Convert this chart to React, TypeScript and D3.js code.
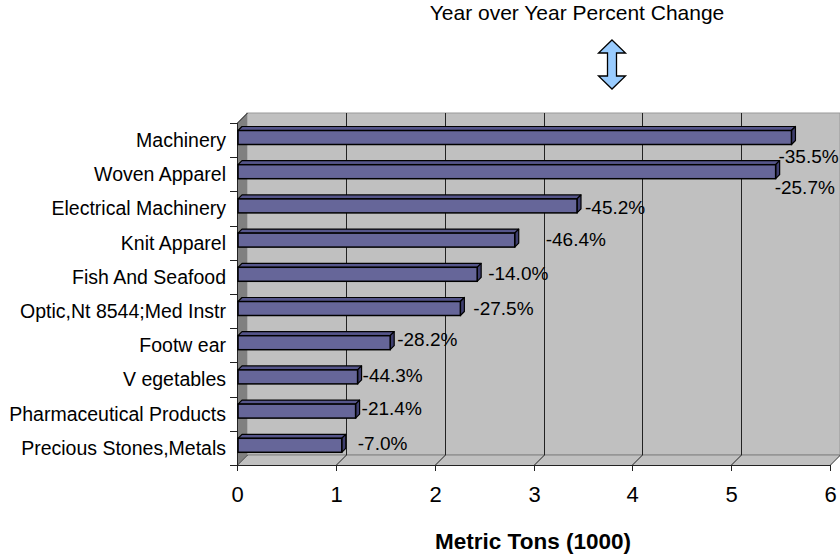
import React, { useRef, useEffect } from 'react';
import * as d3 from 'd3';

const CATEGORIES = [
    "Machinery",
    "Woven Apparel",
    "Electrical Machinery",
    "Knit Apparel",
    "Fish And Seafood",
    "Optic,Nt 8544;Med Instr",
    "Footw ear",
    "V egetables",
    "Pharmaceutical Products",
    "Precious Stones,Metals"
];

const TONS = [5.61, 5.45, 3.44, 2.81, 2.43, 2.26, 1.55, 1.22, 1.20, 1.06];

const PCT_CHANGE = ["-35.5%", "-25.7%", "-45.2%", "-46.4%", "-14.0%", "-27.5%", "-28.2%", "-44.3%", "-21.4%", "-7.0%"];

const X_TICKS = [0, 1, 2, 3, 4, 5, 6];

// Excel placed the % labels by itself, these nudges copy it (px from bar end / bar middle)
const LABEL_DX = [-13, -1, 8, 31, 11, 13, 7, 5, 6, 16];
const LABEL_DY = [19, 16, 1, -1, -1, 0, -3, -2, -3, -2];

const FONT = "'Liberation Sans', Arial, sans-serif";

const App: React.FC = () => {
    const svgRef = useRef<SVGSVGElement>(null);

    useEffect(() => {
        if (!svgRef.current) return;
        const svg = d3.select(svgRef.current);
        svg.selectAll("*").remove();

        const left = 237, right = 830, top = 123, bottom = 465;
        const dx = 10, dy = -10;
        const bd = 4; // bar depth

        const xScale = d3.scaleLinear().domain([0, 6]).range([left, right]);
        const yScale = d3.scaleBand<string>().domain(CATEGORIES).range([top, bottom]);
        const step = yScale.step();

        // back wall
        svg.append("rect")
            .attr("x", left + dx).attr("y", top + dy)
            .attr("width", right - left).attr("height", bottom - top)
            .attr("fill", "#c0c0c0")
            .attr("stroke", "#999").attr("stroke-width", 1);

        // side wall
        svg.append("polygon")
            .attr("points", [[left, top], [left + dx, top + dy], [left + dx, bottom + dy], [left, bottom]].join(" "))
            .attr("fill", "#808080");

        // floor
        svg.append("polygon")
            .attr("points", [[left, bottom], [left + dx, bottom + dy], [right + dx, bottom + dy], [right, bottom]].join(" "))
            .attr("fill", "#c0c0c0");
        svg.append("line")
            .attr("x1", left + dx).attr("x2", right + dx)
            .attr("y1", bottom + dy).attr("y2", bottom + dy)
            .attr("stroke", "#808080");

        // gridlines on the wall + floor diagonals
        X_TICKS.forEach(t => {
            const gx = Math.round(xScale(t)) + 0.5;
            if (t > 0) {
                svg.append("line")
                    .attr("x1", gx + dx).attr("x2", gx + dx)
                    .attr("y1", top + dy).attr("y2", bottom + dy)
                    .attr("stroke", "#222");
            }
            svg.append("line")
                .attr("x1", gx).attr("y1", bottom)
                .attr("x2", gx + dx).attr("y2", bottom + dy)
                .attr("stroke", "#222");
        });

        // x axis
        svg.append("line")
            .attr("x1", left).attr("x2", right)
            .attr("y1", bottom + 0.5).attr("y2", bottom + 0.5)
            .attr("stroke", "#222");
        X_TICKS.forEach(t => {
            const gx = Math.round(xScale(t)) + 0.5;
            svg.append("line")
                .attr("x1", gx).attr("x2", gx)
                .attr("y1", bottom).attr("y2", bottom + 6)
                .attr("stroke", "#222");
            svg.append("text")
                .attr("x", gx).attr("y", 502)
                .attr("text-anchor", "middle")
                .style("font-family", FONT)
                .style("font-size", "22px")
                .text(String(t));
        });

        // y axis
        svg.append("line")
            .attr("x1", left + 0.5).attr("x2", left + 0.5)
            .attr("y1", top).attr("y2", bottom + 6)
            .attr("stroke", "#222");
        svg.append("line")
            .attr("x1", left + 0.5).attr("y1", top)
            .attr("x2", left + dx + 0.5).attr("y2", top + dy)
            .attr("stroke", "#222");
        d3.range(CATEGORIES.length + 1).forEach(i => {
            const ty = Math.round(top + i * step) + 0.5;
            svg.append("line")
                .attr("x1", left - 7).attr("x2", left)
                .attr("y1", ty).attr("y2", ty)
                .attr("stroke", "#222");
        });

        // category labels
        svg.append("g")
            .selectAll("text")
            .data(CATEGORIES)
            .join("text")
            .attr("x", 226)
            .attr("y", d => (yScale(d) ?? 0) + step / 2)
            .attr("dy", "0.35em")
            .attr("text-anchor", "end")
            .style("font-family", FONT)
            .style("font-size", "19.5px")
            .text(d => d);

        // bars
        const bars = svg.append("g");
        CATEGORIES.forEach((cat, i) => {
            const x0 = xScale(0) + 1;
            const x1 = xScale(TONS[i]);
            const yt = (yScale(cat) ?? 0) + 7.5;
            const h = 14;
            bars.append("polygon")
                .attr("points", [[x0, yt], [x0 + bd, yt - bd], [x1 + bd, yt - bd], [x1, yt]].join(" "))
                .attr("fill", "#55558a").attr("stroke", "#000").attr("stroke-width", 1.2)
                .attr("stroke-linejoin", "round");
            bars.append("polygon")
                .attr("points", [[x1, yt], [x1 + bd, yt - bd], [x1 + bd, yt + h - bd], [x1, yt + h]].join(" "))
                .attr("fill", "#3e3e6e").attr("stroke", "#000").attr("stroke-width", 1.2)
                .attr("stroke-linejoin", "round");
            bars.append("rect")
                .attr("x", x0).attr("y", yt)
                .attr("width", x1 - x0).attr("height", h)
                .attr("fill", "#666699").attr("stroke", "#000").attr("stroke-width", 1.5);

            svg.append("text")
                .attr("x", x1 + LABEL_DX[i])
                .attr("y", yt + h / 2 + LABEL_DY[i])
                .attr("dy", "0.35em")
                .style("font-family", FONT)
                .style("font-size", "19px")
                .text(PCT_CHANGE[i]);
        });

        // title + arrow
        svg.append("text")
            .attr("x", 577).attr("y", 20)
            .attr("text-anchor", "middle")
            .style("font-family", FONT)
            .style("font-size", "21px")
            .text("Year over Year Percent Change");

        const ax = 612, aTop = 40, aBot = 89, hw = 13.5, sw = 4.5, hl = 13;
        svg.append("polygon")
            .attr("points", [
                [ax, aTop], [ax + hw, aTop + hl], [ax + sw, aTop + hl], [ax + sw, aBot - hl],
                [ax + hw, aBot - hl], [ax, aBot], [ax - hw, aBot - hl], [ax - sw, aBot - hl],
                [ax - sw, aTop + hl], [ax - hw, aTop + hl]
            ].join(" "))
            .attr("fill", "#99ccff").attr("stroke", "#000").attr("stroke-width", 1.3);

        svg.append("text")
            .attr("x", 533).attr("y", 549)
            .attr("text-anchor", "middle")
            .style("font-family", FONT)
            .style("font-size", "22.5px")
            .style("font-weight", "bold")
            .text("Metric Tons (1000)");
    }, []);

    return (
        <svg ref={svgRef} width={840} height={556}
            style={{ position: 'absolute', left: 0, top: 0, background: '#fff' }} />
    );
};

export default App;
